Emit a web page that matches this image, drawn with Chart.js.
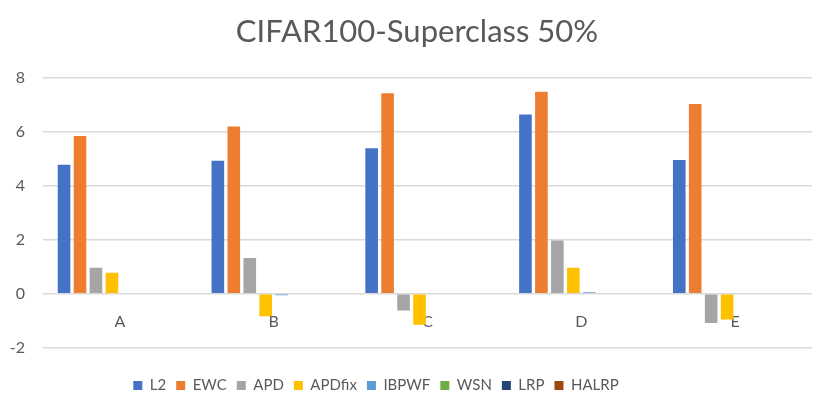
<!DOCTYPE html>
<html>
<head>
<meta charset="utf-8">
<script src="https://cdn.jsdelivr.net/npm/chart.js@4"></script>
<style>
html,body{margin:0;padding:0;background:#fff;}
#wrap{width:830px;height:415px;}
</style>
</head>
<body>
<div id="wrap"><canvas id="chart"></canvas></div>
<script>
// data
const categories=["A","B","C","D","E"];
const seriesNames=["L2","EWC","APD","APDfix","IBPWF","WSN","LRP","HALRP"];
const L2=[4.79,4.94,5.40,6.65,4.96];
const EWC=[5.85,6.21,7.44,7.50,7.04];
const APD=[0.96,1.33,-0.62,1.98,-1.09];
const APDfix=[0.78,-0.84,-1.15,0.96,-0.96];
const IBPWF=[0,-0.06,-0.03,0.05,0];
const WSN=[0,0,0,0,0];
const LRP=[0,0,0,0,0];
const HALRP=[0,0,0,0,0];
const yTicks=[-2,0,2,4,6,8];

const colors=["#4472C4","#ED7D31","#A5A5A5","#FFC000","#5B9BD5","#70AD47","#264478","#9E480E"];
const values=[L2,EWC,APD,APDfix,IBPWF,WSN,LRP,HALRP];

const font="Lato, 'Open Sans', sans-serif";

// nudge title and legend sideways like the original
const shiftBlocks={
id:"shiftBlocks",
afterLayout(chart){
const t=chart.titleBlock,l=chart.legend;
t.left+=7;t.right+=7;
l.left-=34;l.right-=34;
}
};

new Chart(document.getElementById("chart"),{
type:"bar",
data:{
labels:categories,
datasets:seriesNames.map((n,i)=>({
label:n,
data:values[i],
backgroundColor:colors[i],
barPercentage:0.79,
categoryPercentage:0.83
}))
},
options:{
responsive:true,
maintainAspectRatio:false,
animation:false,
layout:{padding:{left:8,right:18,top:0,bottom:12}},
plugins:{
title:{
display:true,
text:"CIFAR100-Superclass 50%",
color:"#595959",
font:{family:font,size:31,weight:"normal"},
padding:{top:13,bottom:28}
},
legend:{
position:"bottom",
title:{display:true,text:" ",font:{size:17},padding:0},
labels:{
color:"#595959",
font:{family:font,size:15},
boxWidth:9,
boxHeight:9,
padding:10
}
},
tooltip:{enabled:false}
},
scales:{
x:{
position:{y:0},
grid:{display:false},
border:{display:false},
ticks:{color:"#595959",font:{family:font,size:16},padding:11}
},
y:{
min:yTicks[0],
max:yTicks[yTicks.length-1],
afterBuildTicks:s=>{s.ticks=yTicks.map(v=>({value:v}));},
afterFit:s=>{s.width=35;},
grid:{color:"#d9d9d9",lineWidth:1.5,drawTicks:false},
border:{display:false},
ticks:{color:"#595959",font:{family:font,size:16},padding:18}
}
}
},
plugins:[shiftBlocks]
});
</script>
</body>
</html>
